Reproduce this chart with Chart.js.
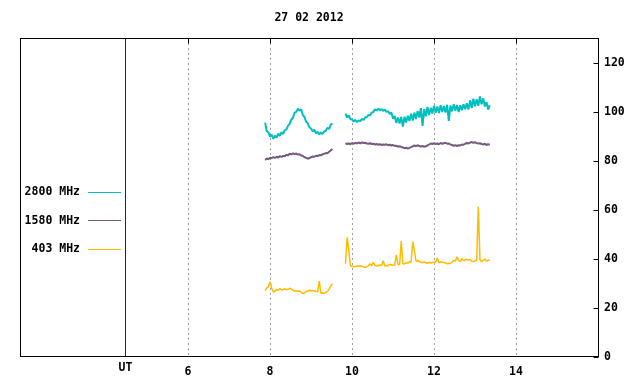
<!DOCTYPE html>
<html><head><meta charset="utf-8">
<script src="https://cdn.jsdelivr.net/npm/chart.js@4/dist/chart.umd.min.js"></script>
<style>html,body{margin:0;padding:0;background:#fff}#wrap{width:640px;height:384px}canvas{display:block}</style>
</head><body><div id="wrap"><canvas id="c" width="640" height="384"></canvas></div>
<script>
const chartTitle = "27 02 2012";
const seriesNames = ["2800 MHz", "1580 MHz", "403 MHz"];
const seriesColors = ["#00bfbf", "#785a7e", "#ffbb00"];
const xTicks = [6, 8, 10, 12, 14];
const yTicks = [0, 20, 40, 60, 80, 100, 120];
const utLabel = "UT";
const utHour = 4.46;

const hoursA = [7.88,7.92,7.96,8.00,8.04,8.08,8.12,8.16,8.20,8.24,8.28,8.32,8.36,8.40,8.44,8.48,8.52,8.56,8.60,8.64,8.68,8.72,8.76,8.80,8.84,8.88,8.92,8.96,9.00,9.04,9.08,9.12,9.16,9.20,9.24,9.28,9.32,9.36,9.40,9.44,9.48,9.52];
const hoursB = [9.84,9.88,9.92,9.96,10.00,10.04,10.08,10.12,10.16,10.20,10.24,10.28,10.32,10.36,10.40,10.44,10.48,10.52,10.56,10.60,10.64,10.68,10.72,10.76,10.80,10.84,10.88,10.92,10.96,11.00,11.04,11.08,11.12,11.16,11.20,11.24,11.28,11.32,11.36,11.40,11.44,11.48,11.52,11.56,11.60,11.64,11.68,11.72,11.76,11.80,11.84,11.88,11.92,11.96,12.00,12.04,12.08,12.12,12.16,12.20,12.24,12.28,12.32,12.36,12.40,12.44,12.48,12.52,12.56,12.60,12.64,12.68,12.72,12.76,12.80,12.84,12.88,12.92,12.96,13.00,13.04,13.08,13.12,13.16,13.20,13.24,13.28,13.32,13.36];

const mhz2800A = [95.5,92.0,91.5,89.8,90.6,88.9,90.2,89.4,91.0,90.1,91.6,90.9,92.4,92.8,94.3,95.0,96.8,97.5,99.6,99.9,101.2,100.4,100.9,98.6,97.8,95.9,95.2,93.6,93.1,92.0,92.6,91.1,91.8,90.7,91.5,90.9,91.9,92.2,93.4,92.9,94.6,95.2];
const mhz2800B = [99.2,97.6,98.5,97.0,96.8,95.9,96.6,95.7,96.4,96.1,
  97.0,96.6,97.6,97.8,98.7,98.4,99.5,99.9,101.0,100.4,
  101.2,100.5,101.0,100.3,100.8,99.9,100.2,99.0,99.6,97.1,
  98.2,95.4,97.6,95.2,97.8,93.9,97.9,95.6,98.3,96.2,
  99.1,96.4,99.6,97.0,100.3,97.6,101.4,94.2,101.0,98.1,
  101.9,98.6,101.6,99.2,102.4,99.5,102.1,99.4,102.6,99.8,
  102.3,99.6,102.8,96.2,102.5,100.1,103.0,100.4,102.7,99.8,
  102.6,100.6,103.0,101.0,103.4,100.9,104.6,101.5,105.3,102.2,
  105.0,102.4,106.2,103.0,105.4,102.1,103.9,100.8,102.6];

const mhz1580A = [80.3,80.9,80.6,81.2,81.0,81.5,81.1,81.6,81.3,81.9,81.5,82.0,81.8,82.4,82.2,82.8,82.6,83.0,82.7,82.9,82.5,82.6,82.1,81.9,81.4,81.2,80.8,81.1,81.4,81.7,81.6,82.0,81.9,82.3,82.2,82.6,82.8,83.1,83.0,83.6,84.2,84.8];
const mhz1580B = [87.1,86.8,87.0,86.7,87.2,86.9,87.3,87.0,87.4,87.1,
  87.5,87.2,87.3,87.0,86.9,87.1,86.8,86.9,86.6,86.8,
  86.5,86.7,86.4,86.6,86.5,86.7,86.3,86.5,86.2,86.4,
  86.0,86.1,85.7,85.9,85.6,85.4,85.1,85.3,84.9,85.2,
  85.5,85.8,86.2,85.9,86.3,86.0,85.7,86.0,85.6,85.9,
  86.2,86.6,87.0,86.8,87.1,86.8,87.0,86.7,87.2,86.9,
  87.1,87.3,86.9,87.0,86.6,86.4,86.1,86.3,86.0,86.3,
  86.2,86.6,86.5,86.9,87.2,87.0,87.4,87.6,87.3,87.5,
  87.2,87.0,87.1,86.8,86.6,86.9,86.4,86.7,86.5];

const mhz403A = [27.0,28.2,28.6,30.6,28.0,26.5,26.8,27.4,27.2,27.9,27.3,27.5,27.8,27.4,27.6,28.0,27.7,27.2,26.9,26.9,26.8,26.9,26.4,25.9,26.1,26.7,26.8,27.2,27.0,27.1,26.9,26.7,26.6,30.9,26.0,26.1,26.0,26.3,26.8,27.6,28.9,29.9];
const mhz403B = [38.0,48.8,43.5,37.2,36.9,37.0,36.8,37.1,37.0,37.2,
  36.9,36.8,36.6,36.7,37.3,38.0,37.2,38.6,37.3,37.1,
  37.3,37.5,37.2,39.2,37.1,37.2,37.3,37.7,37.6,37.4,
  37.5,41.6,37.6,37.7,47.3,37.9,38.0,38.4,38.2,38.8,
  38.6,47.0,43.4,39.0,39.4,38.9,38.6,38.4,38.7,38.5,
  38.2,38.6,38.3,38.6,38.5,38.7,40.3,38.4,38.8,38.6,
  38.5,38.3,38.0,38.2,38.1,38.7,39.4,39.1,40.8,39.3,
  39.0,40.1,39.2,39.6,39.8,39.5,39.7,39.0,38.9,39.2,
  39.4,61.2,39.6,38.8,39.4,39.9,39.1,39.5,39.3];

function build(valsA, valsB) {
  const a = hoursA.map((h, i) => ({x: h, y: valsA[i]}));
  const b = hoursB.map((h, i) => ({x: h, y: valsB[i]}));
  return a.concat([{x: hoursA[hoursA.length - 1], y: null}], b);
}

const FONT = "'DejaVu Sans Mono', monospace";
Chart.defaults.font.family = FONT;
Chart.defaults.font.size = 11.5;
Chart.defaults.font.weight = 'bold';
Chart.defaults.color = '#000';

const decor = {
  id: 'decor',
  beforeDatasetsDraw(chart) {
    const {ctx, chartArea: a, scales: {x}} = chart;
    ctx.save();
    ctx.lineWidth = 1;
    ctx.strokeStyle = '#a0a0a0';
    ctx.setLineDash([2, 3]);
    xTicks.forEach(v => {
      const px = Math.round(x.getPixelForValue(v)) + 0.5;
      ctx.beginPath(); ctx.moveTo(px, a.top); ctx.lineTo(px, a.bottom); ctx.stroke();
    });
    ctx.setLineDash([]);
    const ux = Math.round(x.getPixelForValue(utHour)) + 0.5;
    ctx.strokeStyle = '#800000';
    ctx.beginPath(); ctx.moveTo(ux, a.top); ctx.lineTo(ux, a.bottom); ctx.stroke();
    ctx.restore();
  },
  afterDatasetsDraw(chart) {
    const {ctx, chartArea: a, scales: {x, y}} = chart;
    ctx.save();
    ctx.lineWidth = 1;
    ctx.strokeStyle = '#000';
    const L = Math.round(a.left) + 0.5, R = Math.round(a.right) + 0.5;
    const T = Math.round(a.top) + 0.5, B = Math.round(a.bottom) - 0.5;
    ctx.strokeRect(L, T, R - L, B - T);
    xTicks.forEach(v => {
      const px = Math.round(x.getPixelForValue(v)) + 0.5;
      ctx.beginPath(); ctx.moveTo(px, T); ctx.lineTo(px, T + 5); ctx.stroke();
    });
    yTicks.forEach(v => {
      const py = Math.round(y.getPixelForValue(v)) + 0.5;
      ctx.beginPath(); ctx.moveTo(R - 5, py); ctx.lineTo(R, py); ctx.stroke();
    });
    ctx.fillStyle = '#000';
    ctx.font = "bold 11.5px " + FONT;
    ctx.textAlign = 'center'; ctx.textBaseline = 'middle';
    ctx.fillText(chartTitle, (a.left + a.right) / 2, 18.5);
    const ux = Math.round(x.getPixelForValue(utHour)) + 0.5;
    ctx.fillText(utLabel, ux, 368.5);
    chart.data.datasets.forEach((ds, i) => {
      const ly = 191.5 + i * 28.5;
      ctx.textAlign = 'right';
      ctx.fillStyle = '#000';
      ctx.fillText(ds.label, 80, ly + 1);
      ctx.strokeStyle = ds.borderColor;
      const yy = Math.round(ly) + 0.5;
      ctx.beginPath(); ctx.moveTo(88, yy); ctx.lineTo(121, yy); ctx.stroke();
    });
    ctx.restore();
  }
};

new Chart(document.getElementById('c'), {
  type: 'line',
  data: {
    datasets: [
      {label: seriesNames[0], data: build(mhz2800A, mhz2800B), borderColor: seriesColors[0], borderWidth: 2},
      {label: seriesNames[1], data: build(mhz1580A, mhz1580B), borderColor: seriesColors[1], borderWidth: 2},
      {label: seriesNames[2], data: build(mhz403A, mhz403B), borderColor: seriesColors[2], borderWidth: 1.5}
    ]
  },
  options: {
    responsive: false,
    animation: false,
    devicePixelRatio: 1,
    spanGaps: false,
    elements: {point: {radius: 0}, line: {tension: 0, borderJoinStyle: 'bevel'}},
    layout: {padding: {left: 20, top: 38, right: 0, bottom: 0}},
    plugins: {legend: {display: false}, title: {display: false}, tooltip: {enabled: false}},
    scales: {
      x: {
        type: 'linear', position: 'bottom', min: 1.9, max: 16,
        grid: {display: false, drawTicks: false},
        border: {display: false},
        ticks: {padding: 8, maxRotation: 0, autoSkip: false, color: '#000'},
        afterBuildTicks: s => { s.ticks = xTicks.map(v => ({value: v})); },
        afterFit: s => { s.height = 27; }
      },
      y: {
        type: 'linear', position: 'right', min: 0, max: 130,
        grid: {display: false, drawTicks: false},
        border: {display: false},
        ticks: {padding: 6, color: '#000'},
        afterBuildTicks: s => { s.ticks = yTicks.map(v => ({value: v})); },
        afterFit: s => { s.width = 42; }
      }
    }
  },
  plugins: [decor]
});
</script>
</body></html>
